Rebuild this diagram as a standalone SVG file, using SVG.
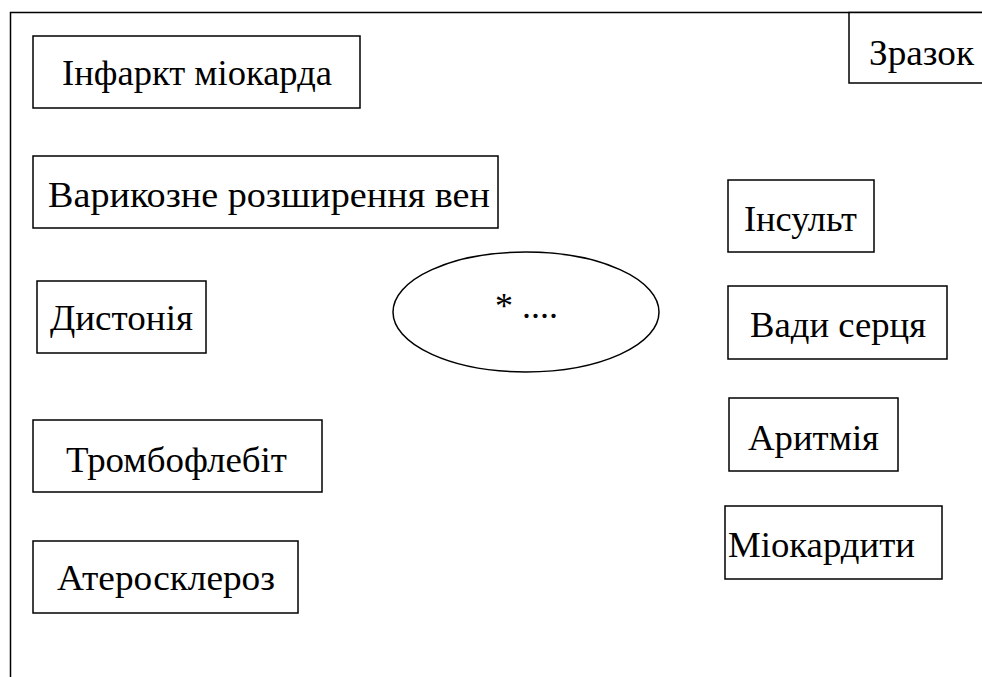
<svg xmlns="http://www.w3.org/2000/svg" width="982" height="677" viewBox="0 0 982 677">
<style>
.b{fill:#fff;stroke:#000;stroke-width:1.5}
.t{font-family:"Liberation Serif","Times New Roman",serif;font-size:36px;fill:#000}
</style>
<rect width="982" height="677" fill="#fff"/>
<g id="frame"><path d="M10.5,677 V12.5 H982" fill="none" stroke="#000" stroke-width="1.5"/></g>
<g id="connectors"></g>
<g id="n-zrazok"><rect class="b" x="849" y="12.5" width="140" height="70.5"/><text class="t" x="869" y="65" textLength="105" lengthAdjust="spacingAndGlyphs">Зразок</text></g>
<g id="n-infarkt"><rect class="b" x="33" y="36" width="327" height="72"/><text class="t" x="62" y="85" textLength="270" lengthAdjust="spacingAndGlyphs">Інфаркт міокарда</text></g>
<g id="n-varikoz"><rect class="b" x="33" y="156" width="465" height="72"/><text class="t" x="48" y="207" textLength="442" lengthAdjust="spacingAndGlyphs">Варикозне розширення вен</text></g>
<g id="n-dyston"><rect class="b" x="37" y="281" width="169" height="72"/><text class="t" x="50" y="330" textLength="143" lengthAdjust="spacingAndGlyphs">Дистонія</text></g>
<g id="n-tromb"><rect class="b" x="33" y="420" width="289" height="72"/><text class="t" x="66" y="472" textLength="221" lengthAdjust="spacingAndGlyphs">Тромбофлебіт</text></g>
<g id="n-ater"><rect class="b" x="33" y="541" width="265" height="72"/><text class="t" x="57" y="590" textLength="218" lengthAdjust="spacingAndGlyphs">Атеросклероз</text></g>
<g id="n-center"><ellipse class="b" cx="526" cy="312" rx="133" ry="60"/><text class="t" x="495" y="318">* ....</text></g>
<g id="n-insult"><rect class="b" x="728" y="180" width="146" height="72"/><text class="t" x="744" y="231" textLength="113" lengthAdjust="spacingAndGlyphs">Інсульт</text></g>
<g id="n-vady"><rect class="b" x="728" y="286" width="219" height="73"/><text class="t" x="750" y="337" textLength="176" lengthAdjust="spacingAndGlyphs">Вади серця</text></g>
<g id="n-arytm"><rect class="b" x="729" y="398" width="169" height="73"/><text class="t" x="748" y="450" textLength="131" lengthAdjust="spacingAndGlyphs">Аритмія</text></g>
<g id="n-miokard"><rect class="b" x="725" y="506" width="217" height="73"/><text class="t" x="728" y="557" textLength="187" lengthAdjust="spacingAndGlyphs">Міокардити</text></g>
</svg>
